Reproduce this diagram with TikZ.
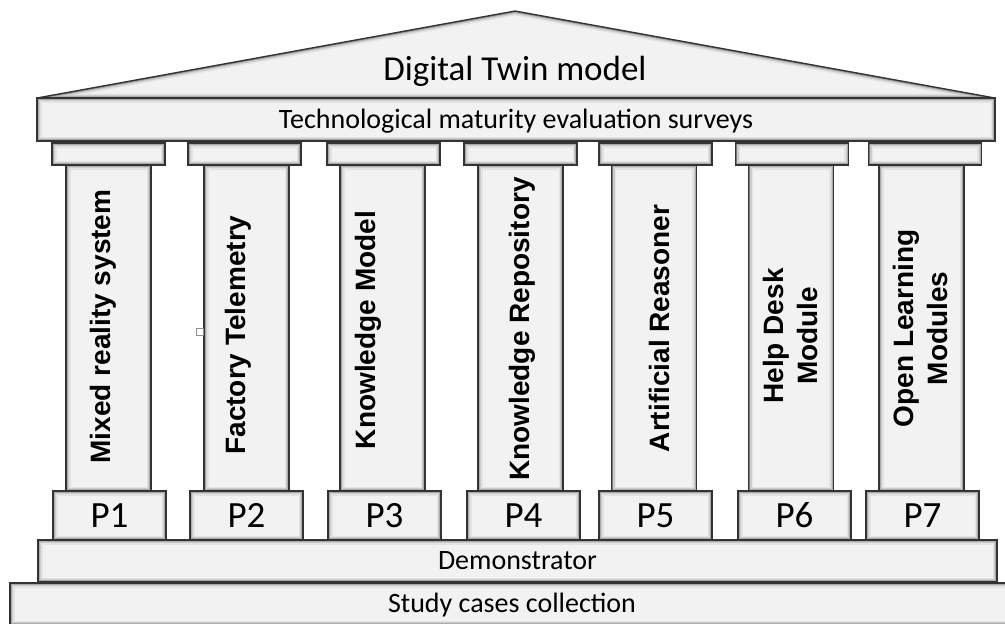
\documentclass[tikz,border=0pt]{standalone}
\usepackage{fontspec}
\setmainfont{Carlito}
\newfontfamily\colfont{Liberation Sans}
\begin{document}
\begin{tikzpicture}[x=1pt,y=-1pt,
  slab/.style={draw=black!80, line width=1.4pt, fill=black!5, inner sep=0pt, outer sep=0pt,
    path picture={
      \foreach \w/\c in {13/5,9/11,6/20,3.8/33,2/52}{
        \draw[black!\c, line width=\w pt] (path picture bounding box.south west) rectangle (path picture bounding box.north east);}
    }},
  flat/.style={font=\fontsize{28}{32}\selectfont},
  plabel/.style={font=\fontsize{37}{40}\selectfont, text height=25pt, text depth=2pt},
  coltext/.style={font=\colfont\bfseries\fontsize{28}{34}\selectfont, rotate=90, inner sep=0pt}
]
\useasboundingbox (0,0) rectangle (1005,624);

% roof
\fill[black!5] (37,98) -- (515,11) -- (995,98) -- cycle;
\begin{scope}
  \clip (37,98) -- (515,11) -- (995,98) -- cycle;
  \foreach \w/\c in {13/5,9/11,6/20,3.8/33,2/52}{
    \draw[black!\c, line width=\w pt] (37,98) -- (515,11) -- (995,98) -- cycle;}
\end{scope}
\draw[black!80, line width=1.3pt, line join=round] (37,98) -- (515,11) -- (995,98) -- cycle;
\node[font=\fontsize{35}{40}\selectfont, anchor=base, inner sep=0pt] (dt) at (515,80) {Digital Twin model};

% architrave
\node[slab, flat, minimum width=958pt, minimum height=43pt, text height=20pt, text depth=3pt] (arch) at (516,119.5) {Technological maturity evaluation surveys};

% capitals
\foreach \cx [count=\i] in {108.5,244.5,383.5,520.5,655.5,792,925}{
  \node[slab, minimum width=113pt, minimum height=22pt] (cap\i) at (\cx,154) {};
}
% shafts
\foreach \cx [count=\i] in {108.5,246.5,382.5,520.5,654,791,921.5}{
  \node[slab, minimum width=85pt, minimum height=326pt] (shaft\i) at (\cx,328) {};
}
% bases
\foreach \cx/\lab [count=\i] in {109.5/P1,246.5/P2,384.5/P3,523.5/P4,655.5/P5,794.5/P6,922.5/P7}{
  \node[slab, plabel, minimum width=113pt, minimum height=49pt] (base\i) at (\cx,515.5) {\lab};
}

% stylobate
\node[slab, flat, minimum width=959pt, minimum height=42pt, text height=19pt, text depth=3pt] (demo) at (517.5,561) {Demonstrator};
\node[slab, flat, minimum width=1004pt, minimum height=42pt, text height=20pt, text depth=3pt] (study) at (512,604) {Study cases collection};

% column texts
\node[coltext, anchor=base] (t1) at (110,326.5) {Mixed reality system};
\node[coltext, anchor=base] (t2) at (245,335) {Factory Telemetry};
\node[coltext, anchor=base] (t3) at (375,330) {Knowledge Model};
\node[coltext, anchor=base] (t4) at (529,329) {Knowledge Repository};
\node[coltext, anchor=base] (t5) at (669,328.5) {Artificial Reasoner};
\node[coltext, align=center] (t6) at (790,336) {Help Desk\\Module};
\node[coltext, align=center] (t7) at (920,328.3) {Open Learning\\Modules};

% small handle mark
\draw[black!45, line width=0.7pt] (196,328) rectangle (203,335);
\draw[black!45, line width=0.7pt] (203,335) -- (shaft2.west |- 0,335);
\end{tikzpicture}
\end{document}
